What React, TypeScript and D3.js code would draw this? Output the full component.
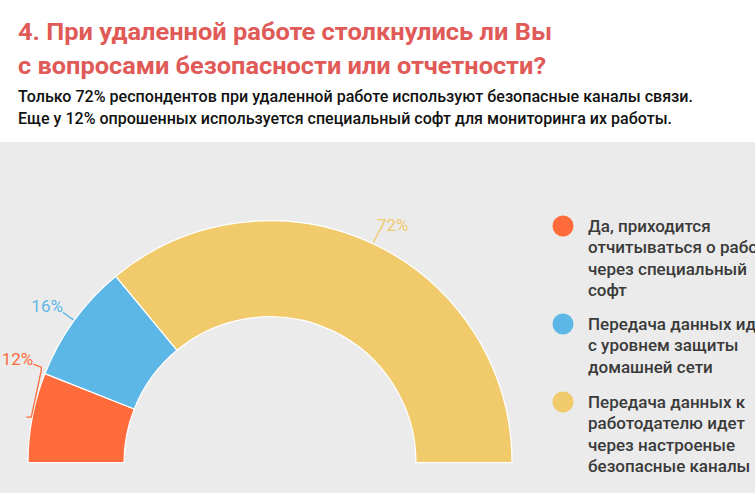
import React, { useEffect, useRef } from "react";
import * as d3 from "d3";

const titleLines = [
  "4. При удаленной работе столкнулись ли Вы",
  "с вопросами безопасности или отчетности?",
];
const subtitleLines = [
  "Только 72% респондентов при удаленной работе используют безопасные каналы связи.",
  "Еще у 12% опрошенных используется специальный софт для мониторинга их работы.",
];
const categories = ["soft", "home", "secure"];
const values = [12, 16, 72];
const colors = ["#ff6b3a", "#5db7e6", "#f0ca6b"];
const legendLabels = [
  ["Да, приходится", "отчитываться о работе", "через специальный", "софт"],
  ["Передача данных идет", "с уровнем защиты", "домашней сети"],
  ["Передача данных к", "работодателю идет", "через настроеные", "безопасные каналы"],
];

const W = 755;
const H = 493;

const App = () => {
  const ref = useRef<SVGSVGElement | null>(null);

  useEffect(() => {
    const svg = d3.select(ref.current);
    svg.selectAll("*").remove();

    const font = "Roboto, 'Noto Sans', sans-serif";

    // background panel
    svg.append("rect").attr("width", W).attr("height", H).attr("fill", "#ffffff");
    svg.append("rect").attr("y", 142).attr("width", W).attr("height", H - 142).attr("fill", "#ebebeb");

    // title
    const titleLen = [534, 528];
    titleLines.forEach((t, i) => {
      svg
        .append("text")
        .attr("x", 18)
        .attr("y", 39.5 + i * 34)
        .attr("font-family", font)
        .attr("font-weight", 700)
        .attr("font-size", 23)
        .attr("fill", "#e05a57")
        .attr("textLength", titleLen[i])
        .attr("lengthAdjust", "spacingAndGlyphs")
        .text(t);
    });

    const subLen = [675, 654];
    subtitleLines.forEach((t, i) => {
      svg
        .append("text")
        .attr("x", 18)
        .attr("y", 101.5 + i * 22)
        .attr("font-family", font)
        .attr("font-weight", 500)
        .attr("font-size", 16)
        .attr("fill", "#111111")
        .attr("textLength", subLen[i])
        .attr("lengthAdjust", "spacingAndGlyphs")
        .text(t);
    });

    // half donut
    const cx = 270;
    const cy = 462.7;
    const outerR = 242;
    const innerR = 146;

    const color = d3.scaleOrdinal<string, string>().domain(categories).range(colors);

    const pieData = categories.map((c, i) => ({ key: c, value: values[i] }));
    const pie = d3
      .pie<{ key: string; value: number }>()
      .value((d) => d.value)
      .sort(null)
      .startAngle(-Math.PI / 2)
      .endAngle(Math.PI / 2)(pieData);

    const arc = d3
      .arc<d3.PieArcDatum<{ key: string; value: number }>>()
      .innerRadius(innerR)
      .outerRadius(outerR);

    const g = svg.append("g").attr("transform", `translate(${cx},${cy})`);

    g.selectAll("path")
      .data(pie)
      .enter()
      .append("path")
      .attr("d", arc)
      .attr("fill", (d) => color(d.data.key))
      .attr("stroke", "#ffffff")
      .attr("stroke-width", 1.2);

    // value labels with leader lines
    const pt = (a: number, r: number): [number, number] => [Math.sin(a) * r, -Math.cos(a) * r];
    pie.forEach((d, i) => {
      const mid = (d.startAngle + d.endAngle) / 2;
      const c = color(d.data.key);
      const p0 = pt(mid, outerR + 1);
      let pts: [number, number][];
      let tx: number;
      let ty: number;
      let anchor: string;
      if (i === 0) {
        // first slice sits low: bracket leads the label upward
        pts = [
          [p0[0] - 5, p0[1]],
          [p0[0], p0[1]],
          [p0[0] + 10, p0[1] - 47],
          [p0[0] + 10, p0[1] - 50],
          [p0[0] + 2, p0[1] - 53],
        ];
        tx = p0[0] + 2;
        ty = p0[1] - 52;
        anchor = "end";
      } else {
        const p1 = pt(mid, outerR + 14);
        pts = [p0, p1];
        const right = Math.sin(mid) > 0;
        tx = right ? p1[0] - 2 : p1[0];
        ty = p1[1];
        anchor = right ? "start" : "end";
      }
      g.append("path")
        .attr("d", d3.line()(pts))
        .attr("fill", "none")
        .attr("stroke", c)
        .attr("stroke-width", 1.3);
      g.append("text")
        .attr("x", tx)
        .attr("y", ty)
        .attr("text-anchor", anchor)
        .attr("font-family", font)
        .attr("font-size", 17)
        .attr("fill", c)
        .text(`${d.data.value}%`);
    });

    // legend
    const legendY = [226, 324, 402];
    const legend = svg
      .selectAll(".legend")
      .data(categories)
      .enter()
      .append("g")
      .attr("class", "legend")
      .attr("transform", (d, i) => `translate(563,${legendY[i]})`);

    legend.append("circle").attr("r", 10.5).attr("fill", (d) => color(d));

    legend.each(function (d, i) {
      const t = d3
        .select(this)
        .append("text")
        .attr("font-family", font)
        .attr("font-weight", 500)
        .attr("font-size", 17)
        .attr("fill", "#3a3a3a");
      legendLabels[i].forEach((line, j) => {
        t.append("tspan")
          .attr("x", 25)
          .attr("y", 5.7 + j * 21.4)
          .text(line);
      });
    });
  }, []);

  return (
    <svg
      ref={ref}
      width={W}
      height={H}
      style={{ position: "absolute", left: 0, top: 0, display: "block" }}
    />
  );
};

export default App;
